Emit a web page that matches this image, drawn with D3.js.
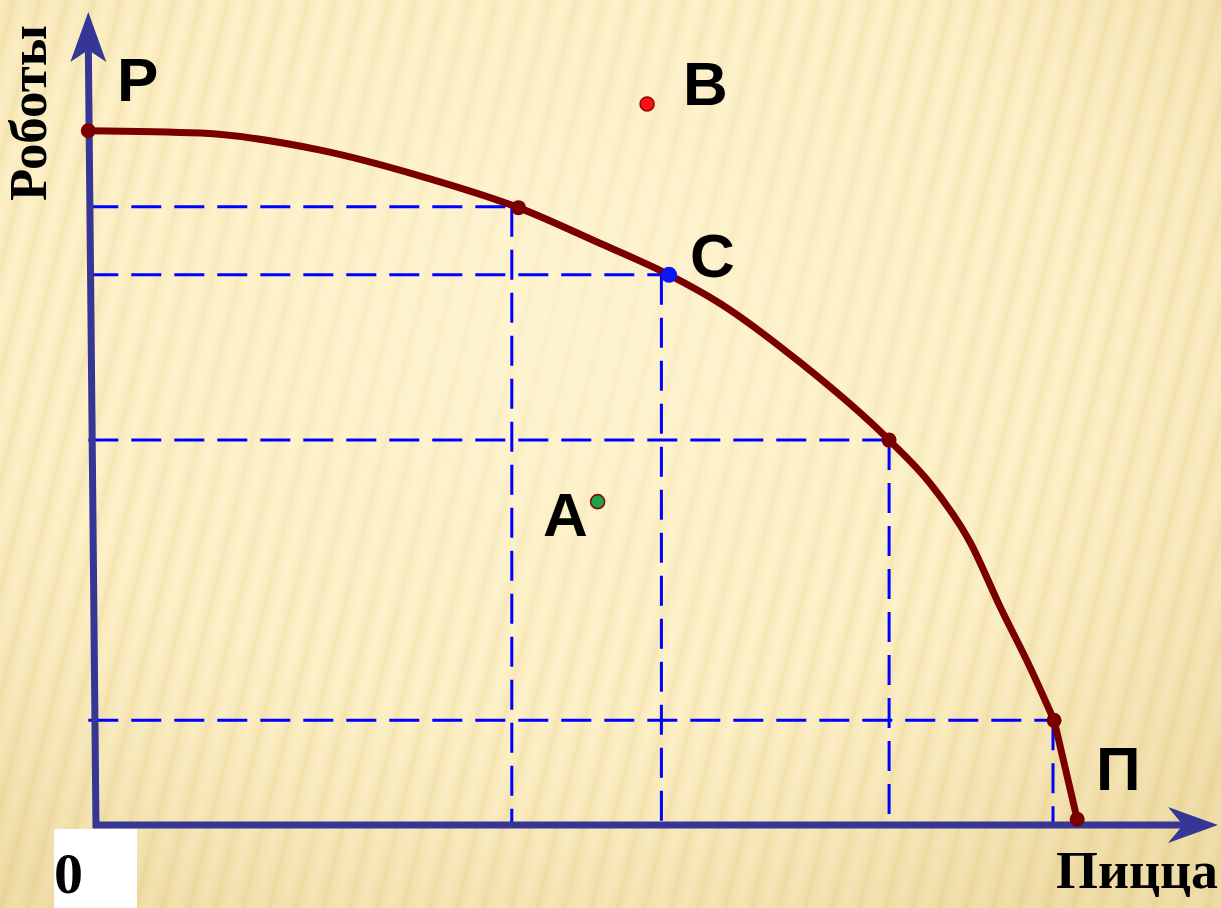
<!DOCTYPE html>
<html><head><meta charset="utf-8">
<script src="https://cdn.jsdelivr.net/npm/d3@7"></script>
<style>html,body{margin:0;padding:0;background:#fcefc4;overflow:hidden}</style>
</head><body>
<svg id="chart" width="1221" height="908"></svg>
<script>
// ---- data (arbitrary units: pizza 0..100, robots 0..100)
const curvePizza  = [-0.7, 9.5, 20.4, 29.5, 38.4, 45.8, 52.1, 56.7, 64.0, 72.1, 75.8, 79.5, 82.2, 84.9, 87.1, 89.2];
const curveRobots = [85.1, 84.8, 82.7, 79.5, 75.6, 71.2, 67.3, 63.8, 56.5, 46.9, 41.6, 34.2, 26.3, 18.9, 12.3, 0.1];
const markerIdx   = [0, 4, 6, 9, 14, 15];          // dots drawn on the curve (index 6 = C)
const guidePizza  = [37.8, 51.4, 72.1, 87.0];       // vertical dashed guides
const guideRobots = [75.7, 67.3, 46.9, 12.3];       // horizontal dashed guides
const pointNames  = ["B", "A"];
const pointPizza  = [50.1, 45.6];
const pointRobots = [88.4, 39.3];
const pointColors = ["#ff1010", "#1aa64a"];
const curveLabels = ["Р", "В", "С", "А", "П"];
const xTitle = "Пицца", yTitle = "Роботы", originLabel = "0";

const svg = d3.select("#chart");
const W = 1221, H = 908;
const x = d3.scaleLinear().domain([0, 100]).range([96, 1196]);
const y = d3.scaleLinear().domain([0, 100]).range([820, 10]);

// ---- background
const defs = svg.append("defs");
const pat = defs.append("pattern").attr("id", "stripes").attr("patternUnits", "userSpaceOnUse")
  .attr("width", 26).attr("height", 26).attr("patternTransform", "rotate(14)");
const lg = defs.append("linearGradient").attr("id", "sg").attr("x1", "0").attr("x2", "1").attr("y1", "0").attr("y2", "0");
[[0, "#fcefc4"], [0.35, "#f8e8b6"], [0.5, "#f1dea6"], [0.65, "#f8e8b6"], [1, "#fcefc4"]]
  .forEach(([o, c]) => lg.append("stop").attr("offset", o).attr("stop-color", c));
pat.append("rect").attr("width", 26).attr("height", 26).attr("fill", "url(#sg)");
const rg = defs.append("radialGradient").attr("id", "vig").attr("cx", "0.45").attr("cy", "0.35").attr("r", "0.75");
rg.append("stop").attr("offset", 0).attr("stop-color", "#fff6d6").attr("stop-opacity", 0.75);
rg.append("stop").attr("offset", 0.6).attr("stop-color", "#fff6d6").attr("stop-opacity", 0.25);
rg.append("stop").attr("offset", 1).attr("stop-color", "#d9bf7c").attr("stop-opacity", 0.35);
svg.append("rect").attr("width", W).attr("height", H).attr("fill", "url(#stripes)");
svg.append("rect").attr("width", W).attr("height", H).attr("fill", "url(#vig)");

// ---- dashed guides
const g = svg.append("g");
const dash = "30,13";
guideRobots.forEach((r, i) => {
  g.append("line").attr("x1", x(-0.7)).attr("x2", x(guidePizza[i]))
    .attr("y1", y(r)).attr("y2", y(r))
    .attr("stroke", "#0000ff").attr("stroke-width", 3).attr("stroke-dasharray", dash);
  g.append("line").attr("x1", x(guidePizza[i])).attr("x2", x(guidePizza[i]))
    .attr("y1", y(r)).attr("y2", y(0) + 5)
    .attr("stroke", "#0000ff").attr("stroke-width", 3).attr("stroke-dasharray", dash);
});

// ---- axes
const axisColor = "#363696";
const x0 = x(0), yAx = y(0) + 5;
svg.append("line").attr("x1", x0).attr("y1", yAx + 3).attr("x2", x(-0.7)).attr("y2", 45)
  .attr("stroke", axisColor).attr("stroke-width", 7);
svg.append("line").attr("x1", x0 - 3).attr("y1", yAx).attr("x2", 1190).attr("y2", yAx)
  .attr("stroke", axisColor).attr("stroke-width", 7);
// arrowheads
const tipY = [x(-0.7), 12];
svg.append("path").attr("fill", axisColor)
  .attr("d", `M${tipY[0]},${tipY[1]} L${tipY[0] + 18},62 L${tipY[0]},50 L${tipY[0] - 18},62 Z`);
svg.append("path").attr("fill", axisColor)
  .attr("d", `M1218,${yAx} L1168,${yAx - 18} L1183,${yAx} L1168,${yAx + 18} Z`);

// ---- curve: smooth part through index 14, then a straight final segment
const pts = curvePizza.map((p, i) => [x(p), y(curveRobots[i])]);
const smooth = pts.slice(0, pts.length - 1);
svg.append("path").attr("d", d3.line().curve(d3.curveMonotoneX)(smooth) + `L${pts[pts.length - 1][0]},${pts[pts.length - 1][1]}`)
  .attr("fill", "none").attr("stroke", "#7a0000").attr("stroke-width", 7)
  .attr("stroke-linecap", "round").attr("stroke-linejoin", "round");
markerIdx.forEach((k, j) => {
  if (j === 2) return;
  svg.append("circle").attr("cx", pts[k][0]).attr("cy", pts[k][1]).attr("r", 7.5).attr("fill", "#7a0000");
});
// point C (blue) on curve
svg.append("circle").attr("cx", pts[markerIdx[2]][0]).attr("cy", pts[markerIdx[2]][1]).attr("r", 8).attr("fill", "#0a14ff");

// ---- free points B, A
pointNames.forEach((n, i) => {
  svg.append("circle").attr("cx", x(pointPizza[i])).attr("cy", y(pointRobots[i])).attr("r", 7)
    .attr("fill", pointColors[i]).attr("stroke", "#8a0a0a").attr("stroke-width", 1.6);
});

// ---- letter labels
const lab = (t, px, py) => svg.append("text").text(t).attr("x", px).attr("y", py)
  .attr("font-family", "Liberation Sans, Arial, sans-serif").attr("font-weight", "bold")
  .attr("font-size", 62).attr("fill", "#000");
lab(curveLabels[0], 117, 101);
lab(curveLabels[1], 683, 105);
lab(curveLabels[2], 690, 277);
lab(curveLabels[3], 543, 536);
lab(curveLabels[4], 1096, 790);

// ---- titles
svg.append("text").text(yTitle).attr("transform", "translate(46,201) rotate(-90)")
  .attr("font-family", "Liberation Serif, Times New Roman, serif").attr("font-weight", "bold")
  .attr("font-size", 52).attr("fill", "#000").attr("textLength", 176).attr("lengthAdjust", "spacingAndGlyphs");
svg.append("text").text(xTitle).attr("x", 1056).attr("y", 888)
  .attr("font-family", "Liberation Serif, Times New Roman, serif").attr("font-weight", "bold")
  .attr("font-size", 52).attr("fill", "#000").attr("textLength", 162).attr("lengthAdjust", "spacingAndGlyphs");

// origin box
svg.append("rect").attr("x", 54).attr("y", yAx + 4).attr("width", 83).attr("height", H - yAx - 4).attr("fill", "#fff");
svg.append("text").text(originLabel).attr("x", 54).attr("y", 893)
  .attr("font-family", "Liberation Serif, Times New Roman, serif").attr("font-weight", "bold")
  .attr("font-size", 58).attr("fill", "#000");
</script>
</body></html>
